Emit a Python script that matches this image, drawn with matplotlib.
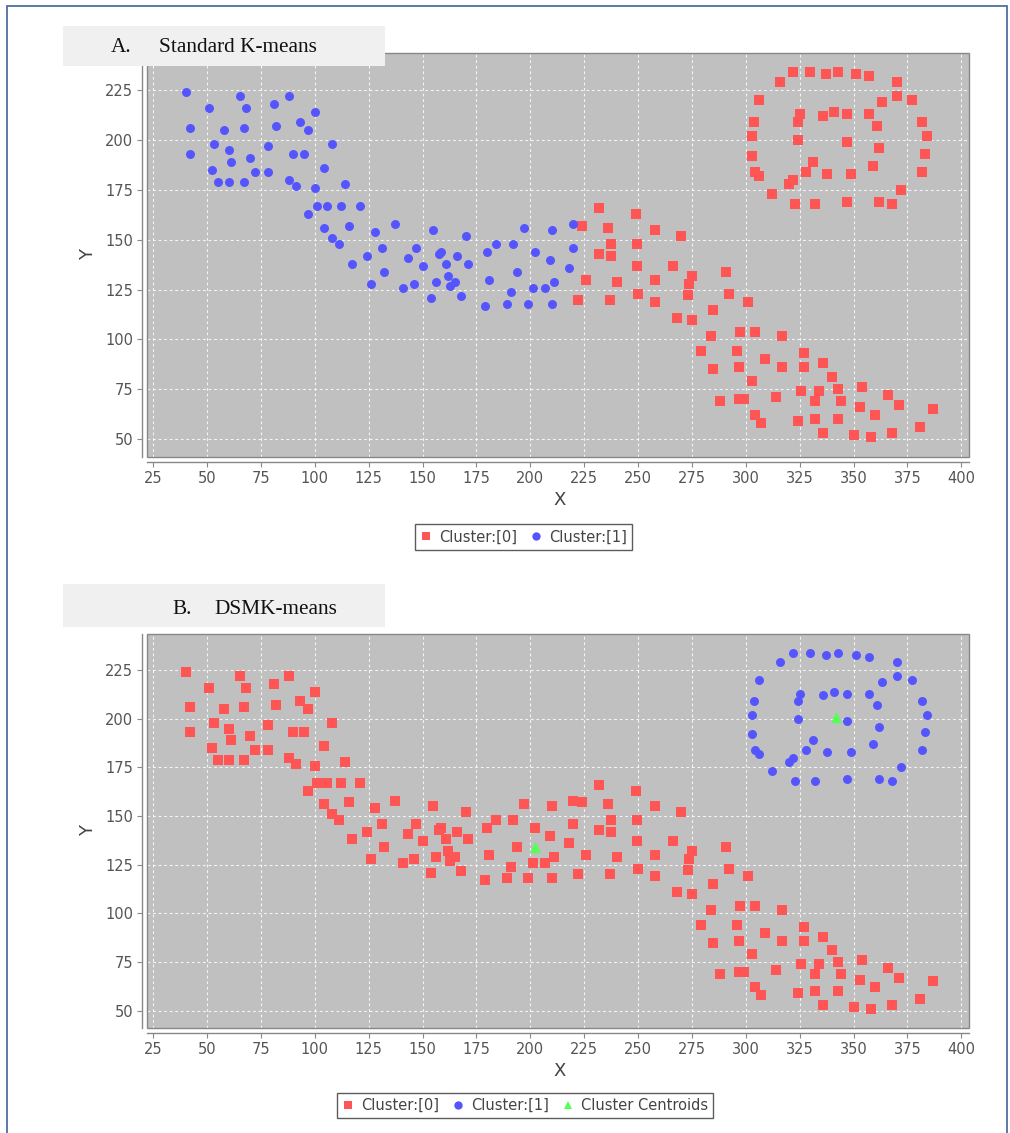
import matplotlib
matplotlib.use("Agg")
import matplotlib.pyplot as plt
from matplotlib.patches import Rectangle
from matplotlib.lines import Line2D
import numpy as np

# ---- data: point sets (x, y) ----
head_x = [40, 51, 65, 68, 81, 88, 100, 42, 58, 67, 82, 93, 97, 53, 60, 42, 78, 90, 95, 108,
          61, 70, 52, 72, 78, 104, 55, 60, 67, 88, 91, 100, 114, 101, 105.5, 112, 97, 104, 116,
          108, 111, 117,
          121, 128, 137, 155, 170, 197, 210, 131, 124, 147, 143, 150, 157.5, 158.6, 161, 166,
          171, 180, 184, 192, 202, 209,
          132, 126, 141, 146, 156, 162, 165, 162.5, 154, 168, 181, 194, 191, 201, 207, 211,
          179, 189, 199, 210,
          220, 220, 218]
head_y = [224, 216, 222, 216, 218, 222, 214, 206, 205, 206, 207, 209, 205, 198, 195, 193, 197,
          193, 193, 198, 189, 191, 185, 184, 184, 186, 179, 179, 179, 180, 177, 176, 178, 167,
          167, 167, 163, 156, 157, 151, 148, 138,
          167, 154, 158, 155, 152, 156, 155, 146, 142, 146, 141, 137, 143, 144, 138, 142, 138,
          144, 148, 148, 144, 140,
          134, 128, 126, 128, 129, 132, 129, 127, 121, 122, 130, 134, 124, 126, 126, 129,
          117, 118, 118, 118,
          158, 146, 136]

tail_x = [232, 249, 224, 236, 258, 270, 237.5, 249.5, 232, 237.5, 249.5, 266, 291, 275, 273.6,
          226, 240, 258, 222, 237, 250, 258, 273, 292, 301, 285, 268, 275, 284, 297.5, 304.5,
          279, 296, 309, 285, 297, 303, 288, 297, 299, 304.5, 307,
          317, 327, 317, 327, 336, 340, 325.6, 334, 343, 354, 314, 366, 332, 344, 353, 371,
          360, 387, 324, 332, 343, 336, 350, 358, 368, 381]
tail_y = [166, 163, 157, 156, 155, 152, 148, 148, 143, 142, 137, 137, 134, 132, 128, 130, 129,
          130, 120, 120, 123, 119, 122.5, 123, 119, 115, 111, 110, 102, 104, 104, 94, 94, 90,
          85, 86, 79, 69, 70, 70, 62, 58,
          102, 93, 86, 86, 88, 81, 74, 74, 75, 76, 71, 72, 69, 69, 66, 67, 62, 65, 59, 60, 60,
          53, 52, 51, 53, 56]

ring_x = [306, 304, 303, 303, 304.5, 306, 316, 322, 330, 337, 343, 351, 357, 370, 370, 377,
          363, 325, 336, 341, 347, 357, 324, 361, 382, 384, 324, 347, 362, 383, 331, 328,
          337.5, 349, 359, 382, 322, 320, 312, 372, 323, 332, 347, 362, 368]
ring_y = [220, 209, 202, 192, 184, 182, 229, 234, 234, 233, 234, 233, 232, 229, 222, 220,
          219, 213, 212, 214, 213, 213, 209, 207, 209, 202, 200, 199, 196, 193, 189, 184,
          183, 183, 187, 184, 180, 178, 173, 175, 168, 168, 169, 169, 168]

centroid_x = [202, 342]
centroid_y = [134, 201]

x_ticks = [25, 50, 75, 100, 125, 150, 175, 200, 225, 250, 275, 300, 325, 350, 375, 400]
y_ticks = [50, 75, 100, 125, 150, 175, 200, 225]

RED = "#FF5555"
BLUE = "#5555FF"
GREEN = "#55FF55"
PLOT_BG = "#C0C0C0"
AXIS_GREY = "#888888"

W, H = 1010, 1133
fig = plt.figure(figsize=(W / 100, H / 100), dpi=100)
fig.patch.set_facecolor("white")


def fx(px):
    return px / W


def fy(py):
    return 1 - py / H


# outer frame
fig.patches.append(Rectangle((fx(7), fy(1140)), fx(1007) - fx(7), fy(6) - fy(1140),
                             transform=fig.transFigure, fill=False,
                             edgecolor="#4F6FA0", linewidth=1.3, zorder=0))


def style_axes(ax):
    ax.set_facecolor(PLOT_BG)
    ax.set_xlim(22.2, 403.6)
    ax.set_ylim(41.1, 243.6)
    ax.set_xticks(x_ticks)
    ax.set_yticks(y_ticks)
    ax.grid(True, color="white", linestyle=(0, (2.5, 2.5)), linewidth=0.8, alpha=0.85)
    ax.set_axisbelow(True)
    for side in ("top", "right"):
        ax.spines[side].set_visible(False)
    for side in ("left", "bottom"):
        ax.spines[side].set_position(("outward", 3.8))
        ax.spines[side].set_color(AXIS_GREY)
        ax.spines[side].set_linewidth(1.0)
    ax.add_patch(Rectangle((0, 0), 1, 1, transform=ax.transAxes, fill=False,
                           edgecolor=AXIS_GREY, linewidth=1.0, clip_on=False, zorder=5))
    ax.tick_params(direction="out", length=3.5, width=0.8, color=AXIS_GREY,
                   labelcolor="#555555", labelsize=10.5, pad=3)


def scatter_set(ax, xs, ys, color, marker):
    ax.scatter(xs, ys, s=42, c=color, marker=marker, linewidths=0, zorder=3)


def title_box(y0, y1, lead, text, lead_x, text_x):
    fig.patches.append(Rectangle((fx(63), fy(y1)), fx(385) - fx(63), fy(y0) - fy(y1),
                                 transform=fig.transFigure, facecolor="#F0F0F0",
                                 edgecolor="none", zorder=10))
    base = y1 - 13.5
    fig.text(fx(lead_x), fy(base), lead, family="Liberation Serif", fontsize=15.3,
             va="baseline", ha="left", color="#111111", zorder=11)
    fig.text(fx(text_x), fy(base), text, family="Liberation Serif", fontsize=15.3,
             va="baseline", ha="left", color="#111111", zorder=11)


def legend_box(cx, cy, entries):
    handles = []
    for label, color, marker in entries:
        handles.append(Line2D([], [], linestyle="none", marker=marker, markersize=6,
                              markerfacecolor=color, markeredgewidth=0, label=label))
    leg = fig.legend(handles=handles, loc="center", bbox_to_anchor=(fx(cx), fy(cy)),
                     bbox_transform=fig.transFigure, ncol=len(handles), frameon=True,
                     fancybox=False, edgecolor="#333333", fontsize=10.5,
                     handlelength=0.8, handletextpad=0.5, columnspacing=0.9,
                     borderpad=0.35, borderaxespad=0)
    leg.get_frame().set_linewidth(1.0)
    for t in leg.get_texts():
        t.set_color("#444444")


# ---- panel A: Standard K-means ----
axA = fig.add_axes([fx(147.3), fy(457), fx(969) - fx(147.3), fy(53) - fy(457)])
style_axes(axA)
scatter_set(axA, tail_x + ring_x, tail_y + ring_y, RED, "s")
scatter_set(axA, head_x, head_y, BLUE, "o")
fig.text(fx(560), fy(500), "X", fontsize=13, color="#444444", ha="center", va="center")
fig.text(fx(88), fy(255), "Y", fontsize=13, color="#444444", ha="center", va="center",
         rotation=90)
title_box(26, 66, "A.", "Standard K-means", 111, 159)
legend_box(523.5, 537, [("Cluster:[0]", RED, "s"), ("Cluster:[1]", BLUE, "o")])

# ---- panel B: DSMK-means ----
axB = fig.add_axes([fx(147.3), fy(1028), fx(969) - fx(147.3), fy(634) - fy(1028)])
style_axes(axB)
scatter_set(axB, head_x + tail_x, head_y + tail_y, RED, "s")
scatter_set(axB, ring_x, ring_y, BLUE, "o")
axB.scatter(centroid_x, centroid_y, s=65, c=GREEN, marker="^", linewidths=0, zorder=4)
fig.text(fx(560), fy(1071), "X", fontsize=13, color="#444444", ha="center", va="center")
fig.text(fx(88), fy(830), "Y", fontsize=13, color="#444444", ha="center", va="center",
         rotation=90)
title_box(584, 627, "B.", "DSMK-means", 172, 214)
legend_box(525, 1105.5, [("Cluster:[0]", RED, "s"), ("Cluster:[1]", BLUE, "o"),
                         ("Cluster Centroids", GREEN, "^")])

fig.savefig("out.png", dpi=100)
